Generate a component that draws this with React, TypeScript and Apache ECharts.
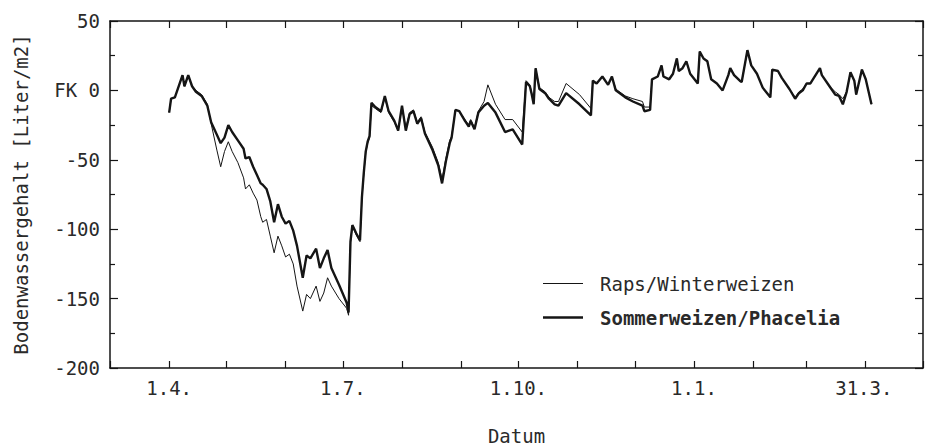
import React, { useEffect, useRef } from "react";
import * as echarts from "echarts";

// days counted from 1.4.
const days = [
  0, 1, 3, 7, 8, 10, 12, 14, 17, 20, 22, 25, 27, 29, 31, 33, 36, 39, 40, 42,
  44, 46, 48, 49, 51, 53, 55, 57, 59, 61, 63, 65, 67, 70, 72, 74, 77, 79, 81, 83,
  85, 89, 93, 94, 95, 96, 98, 100, 101, 102, 103, 104, 105, 106, 108, 111, 113, 115, 118, 120,
  122, 124, 126, 128, 130, 132, 134, 138, 141, 143, 145, 147, 148, 150, 152, 155, 157, 158, 160, 162,
  165, 167, 171, 176, 180, 185, 187, 189, 190, 191, 192, 194, 197, 199, 202, 204, 208, 215, 221, 222,
  224, 227, 230, 232, 234, 239, 243, 248, 249, 252, 253, 256, 258, 259, 262, 264, 266, 267, 269, 271,
  273, 277, 278, 280, 282, 284, 287, 290, 293, 294, 296, 299, 300, 303, 305, 308, 311, 315, 316, 319,
  321, 325, 328, 330, 332, 334, 336, 341, 342, 346, 349, 351, 353, 355, 357, 359, 360, 363, 365, 368,
];

const sommerweizenPhacelia = [
  -16, -6, -5, 11, 3, 11, 3, -1, -4, -11, -23, -32, -38, -34, -25, -30, -36, -42, -49, -48,
  -55, -61, -67, -68, -71, -80, -95, -82, -91, -96, -94, -101, -112, -135, -119, -121, -114, -128, -121, -115,
  -128, -140, -153, -160, -109, -97, -103, -108, -77, -59, -44, -37, -33, -9, -12, -15, -4, -15, -22, -29,
  -11, -29, -17, -15, -24, -20, -31, -43, -54, -67, -51, -38, -34, -14, -15, -22, -26, -22, -28, -16,
  -11, -9, -16, -30, -28, -39, 6, 3, -3, -10, 16, 1, -2, -6, -10, -11, -2, -10, -18, 7,
  5, 10, 4, 10, 0, -5, -8, -11, -15, -14, 8, 10, 18, 10, 8, 12, 23, 14, 16, 21,
  12, 5, 28, 23, 21, 8, 5, 0, 11, 16, 11, 7, 6, 29, 18, 12, 2, -5, 15, 14,
  9, 1, -6, -2, 0, 5, 5, 16, 11, 3, -3, -4, -10, -1, 13, 7, -3, 15, 8, -10,
];

const rapsWinterweizen = [
  -16, -6, -5, 11, 3, 11, 3, 0, -3, -10, -24, -43, -55, -44, -37, -44, -52, -63, -71, -68,
  -74, -79, -91, -95, -93, -105, -117, -105, -112, -120, -118, -125, -141, -159, -147, -150, -141, -152, -146, -135,
  -141, -150, -157, -162, -110, -98, -104, -109, -78, -60, -45, -38, -34, -11, -13, -16, -5, -16, -23, -29,
  -12, -27, -16, -14, -23, -19, -30, -41, -52, -64, -49, -36, -33, -14, -15, -21, -25, -21, -27, -15,
  -8, 4, -10, -21, -21, -30, 7, 4, -2, -9, 16, 2, -1, -5, -8, -8, 5, -3, -13, 7,
  5, 10, 4, 10, 1, -4, -6, -8, -12, -12, 8, 10, 18, 10, 8, 12, 23, 14, 16, 21,
  12, 5, 28, 23, 21, 8, 5, 0, 11, 16, 11, 7, 6, 29, 18, 12, 2, -5, 15, 14,
  9, 1, -5, -1, 1, 5, 5, 16, 11, 3, -1, -3, -6, -1, 13, 7, -3, 15, 8, -10,
];

const monthTicks = [-31, 0, 30, 61, 91, 122, 153, 183, 214, 244, 275, 306, 334, 365, 395];
const dateLabelDays = [0, 91, 183, 275, 364];
const dateLabels = ["1.4.", "1.7.", "1.10.", "1.1.", "31.3."];

const FONT = "DejaVu Sans Mono";
const INK = "#151515";

export default function App() {
  const ref = useRef<HTMLDivElement>(null);

  useEffect(() => {
    if (!ref.current) return;
    const chart = echarts.init(ref.current, null, { renderer: "svg" });

    const textStyle = { fontFamily: FONT, fontSize: 19, color: "#2a2a2a" };

    const xBase = (position: "top" | "bottom", labels: boolean) => ({
      type: "value",
      min: -31,
      max: 395,
      position,
      axisLine: { show: true, onZero: false, lineStyle: { color: INK, width: 1.5 } },
      axisTick: {
        show: true,
        inside: true,
        length: 7,
        customValues: monthTicks,
        lineStyle: { color: INK, width: 1.2 },
      },
      axisLabel: labels
        ? {
            show: true,
            customValues: dateLabelDays,
            margin: 10,
            ...textStyle,
            formatter: (v: number) => {
              const i = dateLabelDays.indexOf(Math.round(v));
              return i >= 0 ? dateLabels[i] : "";
            },
          }
        : { show: false },
      splitLine: { show: false },
    });

    const yBase = (position: "left" | "right", labels: boolean) => ({
      type: "value",
      min: -200,
      max: 50,
      interval: 50,
      position,
      axisLine: { show: true, onZero: false, lineStyle: { color: INK, width: 1.5 } },
      axisTick: { show: true, inside: true, length: 8, lineStyle: { color: INK, width: 1.2 } },
      minorTick: { show: true, splitNumber: 2, length: 5, lineStyle: { color: INK, width: 1.2 } },
      axisLabel: labels
        ? {
            show: true,
            margin: 10,
            ...textStyle,
            formatter: (v: number) => (v === 0 ? "FK 0" : String(v)),
          }
        : { show: false },
      splitLine: { show: false },
      minorSplitLine: { show: false },
    });

    chart.setOption({
      animation: false,
      backgroundColor: "#ffffff",
      grid: { left: 110, right: 5, top: 21, bottom: 77, containLabel: false, outerBoundsMode: "none" },
      legend: {
        orient: "vertical",
        left: 543,
        top: 274,
        padding: 0,
        itemWidth: 40,
        itemHeight: 14,
        itemGap: 15,
        symbolKeepAspect: true,
        textStyle: { ...textStyle, padding: [0, 0, 0, 12] },
        data: [
          { name: "Raps/Winterweizen", icon: "path://M0,0H40V1.1H0Z" },
          {
            name: "Sommerweizen/Phacelia",
            icon: "path://M0,0H40V2.6H0Z",
            textStyle: { fontWeight: "bold" },
          },
        ],
      },
      xAxis: [
        {
          ...xBase("bottom", true),
          name: "Datum",
          nameLocation: "middle",
          nameGap: 58,
          nameTextStyle: textStyle,
        },
        xBase("top", false),
      ],
      yAxis: [
        {
          ...yBase("left", true),
          name: "Bodenwassergehalt [Liter/m2]",
          nameLocation: "middle",
          nameRotate: 90,
          nameGap: 80,
          nameTextStyle: textStyle,
        },
        yBase("right", false),
      ],
      series: [
        {
          name: "Raps/Winterweizen",
          type: "line",
          xAxisIndex: 0,
          yAxisIndex: 0,
          showSymbol: false,
          symbol: "none",
          lineStyle: { color: INK, width: 1 },
          itemStyle: { color: INK },
          data: days.map((d, i) => [d, rapsWinterweizen[i]]),
          z: 2,
        },
        {
          name: "Sommerweizen/Phacelia",
          type: "line",
          xAxisIndex: 0,
          yAxisIndex: 0,
          showSymbol: false,
          symbol: "none",
          lineStyle: { color: INK, width: 2.4 },
          itemStyle: { color: INK },
          data: days.map((d, i) => [d, sommerweizenPhacelia[i]]),
          z: 3,
        },
      ],
    });

    return () => chart.dispose();
  }, []);

  return (
    <div
      ref={ref}
      style={{ position: "absolute", left: 0, top: 0, width: 928, height: 445, background: "#fff" }}
    />
  );
}
